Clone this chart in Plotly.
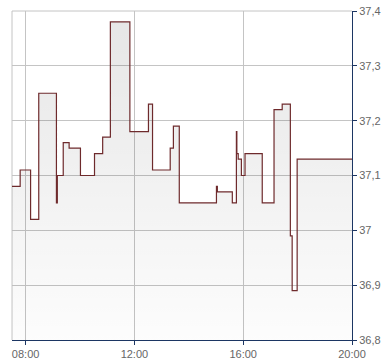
import plotly.graph_objects as go

day = "2024-01-01 "
times = ["07:30", "07:48", "08:11", "08:29", "09:08", "09:10", "09:23", "09:36",
         "10:01", "10:32", "10:50", "11:07", "11:50", "12:31", "12:40", "13:19",
         "13:26", "13:39", "15:01", "15:03", "15:36", "15:45", "15:46", "15:49",
         "15:56", "16:04", "16:42", "17:08", "17:26", "17:44", "17:48", "17:59",
         "20:00"]
values = [37.08, 37.11, 37.02, 37.25, 37.05, 37.10, 37.16, 37.15,
          37.10, 37.14, 37.17, 37.38, 37.18, 37.23, 37.11, 37.15,
          37.19, 37.05, 37.08, 37.07, 37.05, 37.18, 37.14, 37.13,
          37.10, 37.14, 37.05, 37.22, 37.23, 36.99, 36.89, 37.13,
          37.13]
y_ticks = [36.8, 36.9, 37.0, 37.1, 37.2, 37.3, 37.4]
x_ticks = ["08:00", "12:00", "16:00", "20:00"]

x = [day + t for t in times]
y_min, y_max = y_ticks[0], y_ticks[-1]

fig = go.Figure()
fig.add_trace(go.Scatter(
    x=x, y=values, mode="lines", line=dict(shape="hv", color="#6e2a2c", width=1.2),
    fill="tozeroy",
    fillgradient=dict(type="vertical", start=y_min, stop=y_max,
                      colorscale=[[0, "rgba(0,0,0,0.01)"], [1, "rgba(0,0,0,0.10)"]]),
    hoverinfo="skip", showlegend=False,
))

fig.update_layout(
    width=390, height=364,
    margin=dict(l=12, r=38, t=11, b=24),
    paper_bgcolor="white", plot_bgcolor="white",
    separators=", ",
    font=dict(family="Liberation Sans, Arial, sans-serif", size=11, color="#666666"),
    xaxis=dict(
        type="date", range=[day + "07:30", day + "20:00"],
        tickmode="array", tickvals=[day + t for t in x_ticks], ticktext=x_ticks,
        showgrid=True, gridcolor="#c4c4c4", gridwidth=1,
        showline=True, linecolor="#1c3663", linewidth=1, mirror=False,
        ticks="outside", ticklen=4, tickcolor="#1c3663",
        zeroline=False, fixedrange=True, automargin=False,
    ),
    yaxis=dict(
        side="right", range=[y_min, y_max],
        tickmode="array", tickvals=y_ticks,
        ticktext=[f"{v:g}".replace(".", ",") for v in y_ticks],
        showgrid=True, gridcolor="#c4c4c4", gridwidth=1,
        showline=True, linecolor="#1c3663", linewidth=1,
        ticks="outside", ticklen=4, tickcolor="#1c3663",
        zeroline=False, fixedrange=True, automargin=False,
    ),
    shapes=[
        dict(type="line", xref="paper", yref="paper", x0=0, x1=0, y0=0, y1=1,
             line=dict(color="#c4c4c4", width=1), layer="below"),
        dict(type="line", xref="paper", yref="paper", x0=0, x1=1, y0=1, y1=1,
             line=dict(color="#c4c4c4", width=1), layer="below"),
    ],
)

fig.write_html("out.html")
